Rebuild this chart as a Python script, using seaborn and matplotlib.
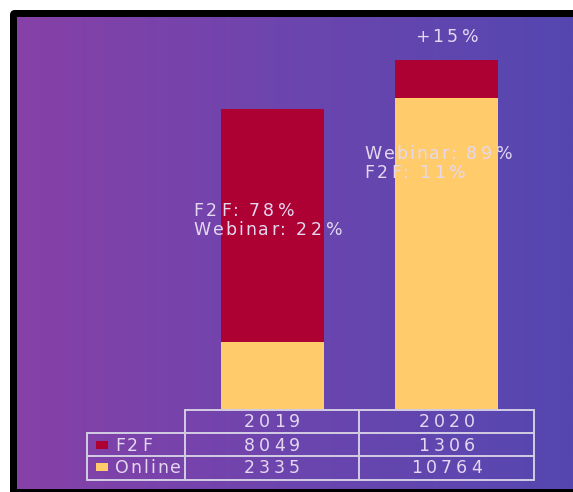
import numpy as np
import pandas as pd
import matplotlib
matplotlib.use("Agg")
import matplotlib.pyplot as plt
import seaborn as sns
from matplotlib.transforms import offset_copy
from matplotlib.font_manager import FontProperties, findfont
from matplotlib.ft2font import FT2Font
from matplotlib.colors import LinearSegmentedColormap
from matplotlib.lines import Line2D
from matplotlib.patches import FancyBboxPatch

# ---- data ----
years = ["2019", "2020"]
f2f = [8049, 1306]
online = [2335, 10764]
series_names = ["F2F", "Online"]
share_2019 = ["F2F: 78%", "Webinar: 22%"]
share_2020 = ["Webinar: 89%", "F2F: 11%"]
growth_label = "+15%"

F2F_COLOR = "#AD0033"
ONLINE_COLOR = "#FFCB6B"
TEXT_COLOR = "#E4D8F0"
LINE_COLOR = "#D4CCE4"

sns.set_theme(style="white")
plt.rcParams["font.family"] = ["DejaVu Sans"]

W, H = 573, 492
fig = plt.figure(figsize=(W / 100, H / 100), dpi=100, facecolor="white")

# background axes in pixel coordinates
bg = fig.add_axes([0, 0, 1, 1])
bg.set_xlim(0, W)
bg.set_ylim(H, 0)
bg.axis("off")
bg.add_patch(FancyBboxPatch((10, 10), W + 20, H + 20,
                            boxstyle="round,pad=0,rounding_size=5",
                            fc="black", ec="none", zorder=0))
cmap = LinearSegmentedColormap.from_list("bg", ["#8641A7", "#6C45AE", "#5547B0"])
grad = np.linspace(0, 1, 256).reshape(1, -1)
bg.imshow(grad, cmap=cmap, aspect="auto", extent=[17, W, 489, 17], zorder=1,
          interpolation="bilinear")

FS = 12.5
TRACK = 2.0
DIGIT_EXTRA = 2.0
fp = FontProperties(family="DejaVu Sans", size=FS)
ft = FT2Font(findfont(fp))
ft.set_size(FS, 100)


def advances(s):
    out = []
    for ch in s:
        g = ft.load_char(ord(ch))
        w = g.linearHoriAdvance / 65536.0
        extra = TRACK + (DIGIT_EXTRA if ch.isdigit() else 0.0)
        out.append(w + extra)
    return out


def spaced(x, y, s, transform, ha="left", color=TEXT_COLOR, dy=0.0, zorder=5):
    adv = advances(s)
    total = sum(adv) - (TRACK + (DIGIT_EXTRA if s[-1].isdigit() else 0.0))
    start = -total / 2 if ha == "center" else 0.0
    off = start
    for ch, a in zip(s, adv):
        tr = offset_copy(transform, fig=fig, x=off, y=dy, units="dots")
        fig.text(x, y, ch, transform=tr, fontproperties=fp, color=color,
                 ha="left", va="baseline", zorder=zorder)
        off += a


# ---- bars ----
ax_left, ax_right, ax_top, ax_base = 185, 534, 17, 409
ax = fig.add_axes([ax_left / W, (H - ax_base) / H, (ax_right - ax_left) / W,
                   (ax_base - ax_top) / H])
ax.patch.set_alpha(0)
totals = [a + b for a, b in zip(f2f, online)]
df = pd.DataFrame({"year": years, "total": totals, "online": online})
sns.barplot(data=df, x="year", y="total", color=F2F_COLOR, saturation=1,
            width=0.59, linewidth=0, ax=ax)
sns.barplot(data=df, x="year", y="online", color=ONLINE_COLOR, saturation=1,
            width=0.59, linewidth=0, ax=ax)
ax.set_xlim(-0.5, 1.5)
ax.set_ylim(0, 392 * 10384 / 300)
ax.axis("off")

per_px = 10384 / 300
# share annotations
spaced(-0.45, (409 - 216) * per_px, share_2019[0], ax.transData)
spaced(-0.45, (409 - 235) * per_px, share_2019[1], ax.transData)
spaced(0.528, (409 - 159) * per_px, share_2020[0], ax.transData)
spaced(0.528, (409 - 178) * per_px, share_2020[1], ax.transData)
spaced(1, totals[1], growth_label, ax.transData, ha="center", dy=18)

# ---- table ----
cols = [185, 359, 534]
rows = [410, 433, 456, 480]
left = 87
lw = 1.4
segs = [
    ((cols[0], cols[2]), (rows[0], rows[0])),
    ((left, cols[2]), (rows[1], rows[1])),
    ((left, cols[2]), (rows[2], rows[2])),
    ((left, cols[2]), (rows[3], rows[3])),
    ((left, left), (rows[1], rows[3])),
    ((cols[0], cols[0]), (rows[0], rows[3])),
    ((cols[1], cols[1]), (rows[0], rows[3])),
    ((cols[2], cols[2]), (rows[0], rows[3])),
]
for xs, ys in segs:
    bg.add_line(Line2D(xs, ys, color=LINE_COLOR, lw=lw, zorder=4))

centers = [(cols[0] + cols[1]) / 2, (cols[1] + cols[2]) / 2]
for cx, yr in zip(centers, years):
    spaced(cx, 427, yr, bg.transData, ha="center")
row_base = [451, 473]
for i, (name, vals, colr) in enumerate(zip(series_names, [f2f, online],
                                             [F2F_COLOR, ONLINE_COLOR])):
    yb = row_base[i]
    bg.add_patch(plt.Rectangle((96, yb - 10), 12, 8, fc=colr, ec="none", zorder=5))
    spaced(115, yb, name, bg.transData)
    for cx, v in zip(centers, vals):
        spaced(cx, yb, str(v), bg.transData, ha="center")

fig.savefig("out.png", dpi=100, facecolor="white")
